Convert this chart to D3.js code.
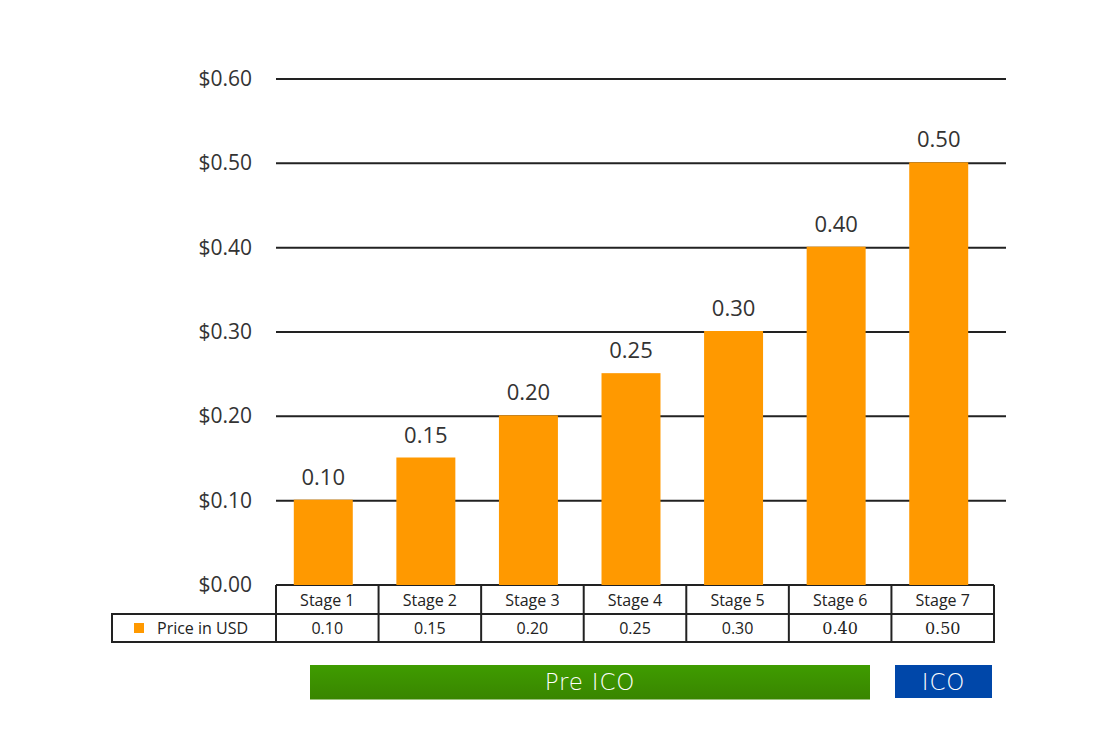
<!DOCTYPE html>
<html>
<head>
<meta charset="utf-8">
<script src="https://cdn.jsdelivr.net/npm/d3@7"></script>
<style>
  html, body { margin: 0; padding: 0; background: #fff; }
  svg { display: block; }
</style>
</head>
<body>
<svg id="chart" width="1100" height="738"></svg>
<script>
// ---- data ----
const categories = ["Stage 1", "Stage 2", "Stage 3", "Stage 4", "Stage 5", "Stage 6", "Stage 7"];
const prices = [0.10, 0.15, 0.20, 0.25, 0.30, 0.40, 0.50];
const priceLabels = ["0.10", "0.15", "0.20", "0.25", "0.30", "0.40", "0.50"];
const yTicks = [0, 0.1, 0.2, 0.3, 0.4, 0.5, 0.6];
const seriesName = "Price in USD";
const phases = [
  { name: "Pre ICO", from: "Stage 1", to: "Stage 6" },
  { name: "ICO", from: "Stage 7", to: "Stage 7" }
];

// ---- layout ----
const svg = d3.select("#chart");
const sans = "'Open Sans', 'Noto Sans', sans-serif";
const serif = "'DejaVu Serif', 'Liberation Serif', serif";
const ink = "#222";

const y = d3.scaleLinear().domain([0, 0.6]).range([585, 79]);
const xCol = d3.scaleBand().domain(categories).range([276, 994]).padding(0);
const xBar = d3.scaleBand().domain(categories).range([272, 990])
  .paddingInner(0.425).paddingOuter(0.2125);

// gridlines
svg.append("g").selectAll("line").data(yTicks).join("line")
  .attr("x1", 276)
  .attr("x2", d => d === 0 ? 994 : 1006)
  .attr("y1", d => y(d)).attr("y2", d => y(d))
  .attr("stroke", ink).attr("stroke-width", 2);

// y tick labels
svg.append("g").selectAll("text").data(yTicks).join("text")
  .attr("x", 252).attr("y", d => y(d) + 7)
  .attr("text-anchor", "end")
  .attr("font-family", sans).attr("font-size", 21).attr("fill", "#333")
  .text(d => "$" + d3.format(".2f")(d));

// bars
svg.append("g").selectAll("rect").data(prices).join("rect")
  .attr("x", (d, i) => xBar(categories[i]))
  .attr("width", xBar.bandwidth())
  .attr("y", d => y(d) - 1)
  .attr("height", d => y(0) - y(d) + 1)
  .attr("fill", "#ff9900");

// value labels
svg.append("g").selectAll("text").data(prices).join("text")
  .attr("x", (d, i) => xBar(categories[i]) + xBar.bandwidth() / 2)
  .attr("y", d => y(d) - 16)
  .attr("text-anchor", "middle")
  .attr("font-family", sans).attr("font-size", 22).attr("fill", "#333")
  .text((d, i) => priceLabels[i]);

// ---- data table ----
const tbl = svg.append("g");
const r0 = 586, r1 = 614, r2 = 642;
// header cells
tbl.append("g").selectAll("text").data(categories).join("text")
  .attr("x", d => xCol(d) + xCol.bandwidth() / 2)
  .attr("y", 606)
  .attr("text-anchor", "middle")
  .attr("font-family", sans).attr("font-size", 16).attr("fill", "#222")
  .text(d => d);
// value cells
tbl.append("g").selectAll("text").data(priceLabels).join("text")
  .attr("x", (d, i) => xCol(categories[i]) + xCol.bandwidth() / 2)
  .attr("y", 634)
  .attr("text-anchor", "middle")
  .attr("font-family", (d, i) => i >= 5 ? serif : sans)
  .attr("font-size", (d, i) => i >= 5 ? 16 : 16)
  .attr("fill", "#222")
  .text(d => d);
// legend cell
tbl.append("rect").attr("x", 134).attr("y", 623).attr("width", 10).attr("height", 10).attr("fill", "#ff9900");
tbl.append("text").attr("x", 157).attr("y", 634)
  .attr("font-family", sans).attr("font-size", 16).attr("fill", "#222")
  .text(seriesName);
// borders
const lines = [];
lines.push([276, r1, 994, r1]);
lines.push([112, r1, 276, r1]);
lines.push([112, r2, 994, r2]);
lines.push([112, r1, 112, r2]);
lines.push([994, r0, 994, r2]);
categories.forEach(c => lines.push([xCol(c), r0, xCol(c), r2]));
tbl.append("g").selectAll("line").data(lines).join("line")
  .attr("x1", d => d[0]).attr("y1", d => d[1])
  .attr("x2", d => d[2]).attr("y2", d => d[3])
  .attr("stroke", ink).attr("stroke-width", 2).attr("stroke-linecap", "square");

// ---- phase banners ----
const defs = svg.append("defs");
const g1 = defs.append("linearGradient").attr("id", "greenGrad").attr("x1", 0).attr("y1", 0).attr("x2", 0).attr("y2", 1);
g1.append("stop").attr("offset", "0%").attr("stop-color", "#3f9c00");
g1.append("stop").attr("offset", "100%").attr("stop-color", "#398500");
const phaseFill = ["url(#greenGrad)", "#0047a9"];
const phaseBox = [
  { x0: 310, x1: 870, y0: 665, y1: 699.5 },
  { x0: 895, x1: 992, y0: 665, y1: 698 }
];
const pg = svg.append("g");
pg.selectAll("rect").data(phases).join("rect")
  .attr("x", (d, i) => phaseBox[i].x0)
  .attr("y", (d, i) => phaseBox[i].y0)
  .attr("width", (d, i) => phaseBox[i].x1 - phaseBox[i].x0)
  .attr("height", (d, i) => phaseBox[i].y1 - phaseBox[i].y0)
  .attr("fill", (d, i) => phaseFill[i]);
pg.selectAll("text").data(phases).join("text")
  .attr("x", (d, i) => (phaseBox[i].x0 + phaseBox[i].x1) / 2)
  .attr("y", 690)
  .attr("text-anchor", "middle")
  .attr("font-family", "'DejaVu Sans', sans-serif").attr("font-size", 23)
  .attr("font-weight", 200)
  .attr("letter-spacing", 0.8)
  .attr("fill", "#fff")
  .text(d => d.name);
</script>
</body>
</html>
